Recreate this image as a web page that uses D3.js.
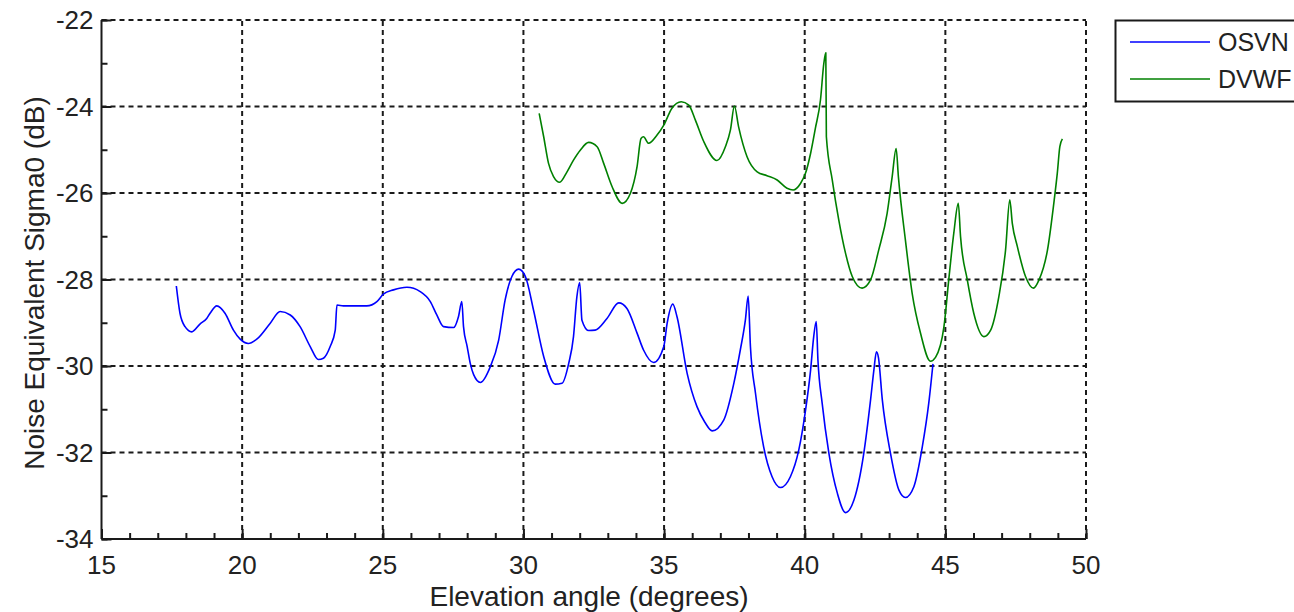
<!DOCTYPE html>
<html>
<head>
<meta charset="utf-8">
<script src="https://cdn.jsdelivr.net/npm/d3@7"></script>
<style>
  html, body { margin: 0; padding: 0; background: #fff; }
  svg { display: block; font-family: "Liberation Sans", Arial, sans-serif; }
</style>
</head>
<body>
<div id="chart"></div>
<script>
// OSVN curve: [elevation deg, dB]
const osvnAngle = [17.66, 17.79, 17.97, 18.21, 18.5, 18.74, 18.86, 19.1, 19.39, 19.69, 19.93, 20.22, 20.52, 21.0, 21.35, 21.71, 22.06, 22.42, 22.71, 22.89, 23.13, 23.31, 23.37, 23.6, 24.43, 24.79, 25.02, 25.38, 25.86, 26.33, 26.69, 26.92, 27.16, 27.52, 27.69, 27.81, 27.87, 28.0, 28.11, 28.23, 28.47, 28.82, 29.12, 29.35, 29.59, 29.83, 30.07, 30.36, 30.72, 31.13, 31.37, 31.61, 31.78, 31.9, 32.0, 32.08, 32.32, 32.55, 32.97, 33.39, 33.68, 34.04, 34.27, 34.63, 34.99, 35.11, 35.31, 35.46, 35.82, 36.17, 36.45, 36.71, 37.12, 37.48, 37.71, 37.89, 37.99, 38.07, 38.25, 38.54, 38.84, 39.14, 39.49, 39.79, 40.03, 40.21, 40.32, 40.41, 40.47, 40.62, 40.86, 41.16, 41.45, 41.75, 42.1, 42.34, 42.46, 42.55, 42.62, 42.76, 43.05, 43.35, 43.58, 43.88, 44.18, 44.41, 44.56];
const osvnDb = [-28.15, -28.78, -29.09, -29.21, -29.03, -28.9, -28.78, -28.61, -28.78, -29.17, -29.38, -29.48, -29.38, -29.01, -28.74, -28.82, -29.09, -29.55, -29.85, -29.82, -29.55, -29.17, -28.59, -28.61, -28.61, -28.51, -28.34, -28.24, -28.18, -28.28, -28.51, -28.82, -29.09, -29.11, -28.86, -28.51, -29.09, -29.55, -29.94, -30.2, -30.38, -30.02, -29.4, -28.47, -27.93, -27.76, -27.93, -28.71, -29.78, -30.42, -30.4, -29.94, -29.32, -28.4, -28.07, -28.94, -29.18, -29.17, -28.9, -28.54, -28.67, -29.24, -29.63, -29.92, -29.55, -29.01, -28.57, -28.86, -30.17, -30.94, -31.3, -31.5, -31.25, -30.4, -29.63, -28.94, -28.38, -29.55, -30.63, -31.87, -32.56, -32.81, -32.56, -31.94, -31.02, -30.09, -29.32, -28.97, -29.86, -30.86, -32.02, -32.94, -33.39, -33.1, -32.02, -30.79, -30.09, -29.67, -29.8, -30.79, -32.02, -32.87, -33.04, -32.79, -31.87, -30.86, -29.95];

// DVWF curve
const dvwfAngle = [30.56, 30.72, 30.89, 31.07, 31.29, 31.55, 31.78, 32.02, 32.32, 32.62, 32.85, 33.15, 33.51, 33.8, 34.04, 34.18, 34.27, 34.45, 34.75, 34.99, 35.28, 35.61, 35.88, 36.11, 36.41, 36.88, 37.18, 37.36, 37.5, 37.65, 37.95, 38.31, 38.66, 39.02, 39.37, 39.59, 39.85, 40.03, 40.21, 40.38, 40.56, 40.68, 40.75, 40.77, 40.98, 41.21, 41.45, 41.69, 42.04, 42.34, 42.63, 42.93, 43.11, 43.25, 43.33, 43.58, 43.82, 44.12, 44.47, 44.65, 44.95, 45.12, 45.3, 45.46, 45.54, 45.78, 46.01, 46.37, 46.61, 46.9, 47.14, 47.29, 47.38, 47.56, 47.85, 48.13, 48.33, 48.63, 48.87, 48.98, 49.07, 49.16];
const dvwfDb = [-24.16, -24.7, -25.31, -25.62, -25.75, -25.51, -25.24, -25.01, -24.83, -24.93, -25.31, -25.85, -26.24, -26.01, -25.39, -24.74, -24.7, -24.85, -24.66, -24.43, -24.04, -23.89, -23.97, -24.31, -24.81, -25.25, -24.93, -24.54, -23.99, -24.47, -25.16, -25.51, -25.6, -25.7, -25.89, -25.93, -25.78, -25.54, -25.08, -24.5, -23.85, -23.0, -22.76, -24.7, -25.7, -26.62, -27.39, -27.93, -28.2, -28.01, -27.32, -26.47, -25.62, -24.97, -25.62, -27.09, -28.32, -29.25, -29.89, -29.8, -29.09, -28.01, -26.93, -26.24, -27.01, -28.01, -28.78, -29.32, -29.17, -28.4, -27.32, -26.16, -26.7, -27.24, -27.93, -28.2, -28.01, -27.32, -26.16, -25.54, -24.93, -24.75];

const seriesNames = ['OSVN', 'DVWF'];
const seriesColors = ['#0000ff', '#008000'];

const xTicks = [15, 20, 25, 30, 35, 40, 45, 50];
const yTicks = [-34, -32, -30, -28, -26, -24, -22];

const width = 1294, height = 612;
const margin = { top: 20, right: 208, bottom: 73, left: 101.5 };

const svg = d3.select('#chart').append('svg')
    .attr('width', width)
    .attr('height', height);

const x = d3.scaleLinear().domain([15, 50]).range([margin.left, width - margin.right]);
const y = d3.scaleLinear().domain([-34, -22]).range([height - margin.bottom, margin.top]);

const x0 = x.range()[0], x1 = x.range()[1];
const y0 = y.range()[0], y1 = y.range()[1];

// grid (dashed), also forms top/right frame
const grid = svg.append('g')
    .attr('stroke', '#1a1a1a')
    .attr('stroke-width', 2)
    .attr('stroke-dasharray', '5,4');

grid.selectAll('line.gx')
    .data(xTicks.slice(1))
    .join('line')
    .attr('x1', d => x(d)).attr('x2', d => x(d))
    .attr('y1', y0).attr('y2', y1);

grid.selectAll('line.gy')
    .data(yTicks.slice(1))
    .join('line')
    .attr('x1', x0).attr('x2', x1)
    .attr('y1', d => y(d)).attr('y2', d => y(d));

// axes: solid left/bottom with inward ticks
const xAxis = svg.append('g')
    .attr('transform', `translate(0,${y0})`)
    .call(d3.axisTop(x).tickValues(d3.range(15, 51, 1)).tickSize(6).tickFormat(''));
const xMajor = svg.append('g')
    .attr('transform', `translate(0,${y0})`)
    .call(d3.axisTop(x).tickValues(xTicks).tickSize(10).tickFormat(''));

const yAxis = svg.append('g')
    .attr('transform', `translate(${x0},0)`)
    .call(d3.axisRight(y).tickValues(d3.range(-34, -21, 1)).tickSize(6).tickFormat(''));
const yMajor = svg.append('g')
    .attr('transform', `translate(${x0},0)`)
    .call(d3.axisRight(y).tickValues(yTicks).tickSize(10).tickFormat(''));

svg.selectAll('.domain').attr('stroke', '#1a1a1a').attr('stroke-width', 2);
svg.selectAll('.tick line').attr('stroke', '#1a1a1a').attr('stroke-width', 2);
// keep only solid spines; top/right handled by grid
xAxis.select('.domain').attr('d', `M${x0},0H${x1}`);
xMajor.select('.domain').remove();
yAxis.select('.domain').attr('d', `M0,${y0}V${y1}`);
yMajor.select('.domain').remove();

// tick labels
svg.append('g').selectAll('text')
    .data(xTicks)
    .join('text')
    .attr('x', d => x(d))
    .attr('y', y0 + 35)
    .attr('text-anchor', 'middle')
    .attr('font-size', 26)
    .attr('fill', '#222')
    .text(d => d);

svg.append('g').selectAll('text')
    .data(yTicks)
    .join('text')
    .attr('x', x0 - 8)
    .attr('y', d => y(d) + 9)
    .attr('text-anchor', 'end')
    .attr('font-size', 26)
    .attr('fill', '#222')
    .text(d => d);

// axis titles
svg.append('text')
    .attr('x', 589)
    .attr('y', 606)
    .attr('text-anchor', 'middle')
    .attr('font-size', 28)
    .attr('fill', '#222')
    .text('Elevation angle (degrees)');

svg.append('text')
    .attr('transform', `translate(44,283) rotate(-90)`)
    .attr('text-anchor', 'middle')
    .attr('font-size', 28)
    .attr('fill', '#222')
    .text('Noise Equivalent Sigma0 (dB)');

// curves
const line = d3.line()
    .x(d => x(d[0]))
    .y(d => y(d[1]))
    .curve(d3.curveMonotoneX);

const series = [
    d3.zip(osvnAngle, osvnDb),
    d3.zip(dvwfAngle, dvwfDb)
];

svg.append('g')
    .attr('fill', 'none')
    .attr('stroke-width', 1.6)
    .attr('stroke-linejoin', 'round')
    .selectAll('path')
    .data(series)
    .join('path')
    .attr('stroke', (d, i) => seriesColors[i])
    .attr('d', line);

// legend
const legend = svg.append('g');
legend.append('rect')
    .attr('x', 1115.5).attr('y', 20.5)
    .attr('width', 200).attr('height', 81)
    .attr('fill', '#fff')
    .attr('stroke', '#1a1a1a')
    .attr('stroke-width', 2);

const legendY = [42, 79];
seriesNames.forEach((name, i) => {
    legend.append('line')
        .attr('x1', 1130).attr('x2', 1210)
        .attr('y1', legendY[i]).attr('y2', legendY[i])
        .attr('stroke', seriesColors[i])
        .attr('stroke-width', 1.6);
    legend.append('text')
        .attr('x', 1218)
        .attr('y', legendY[i] + 9)
        .attr('font-size', 25)
        .attr('fill', '#222')
        .text(name);
});
</script>
</body>
</html>
